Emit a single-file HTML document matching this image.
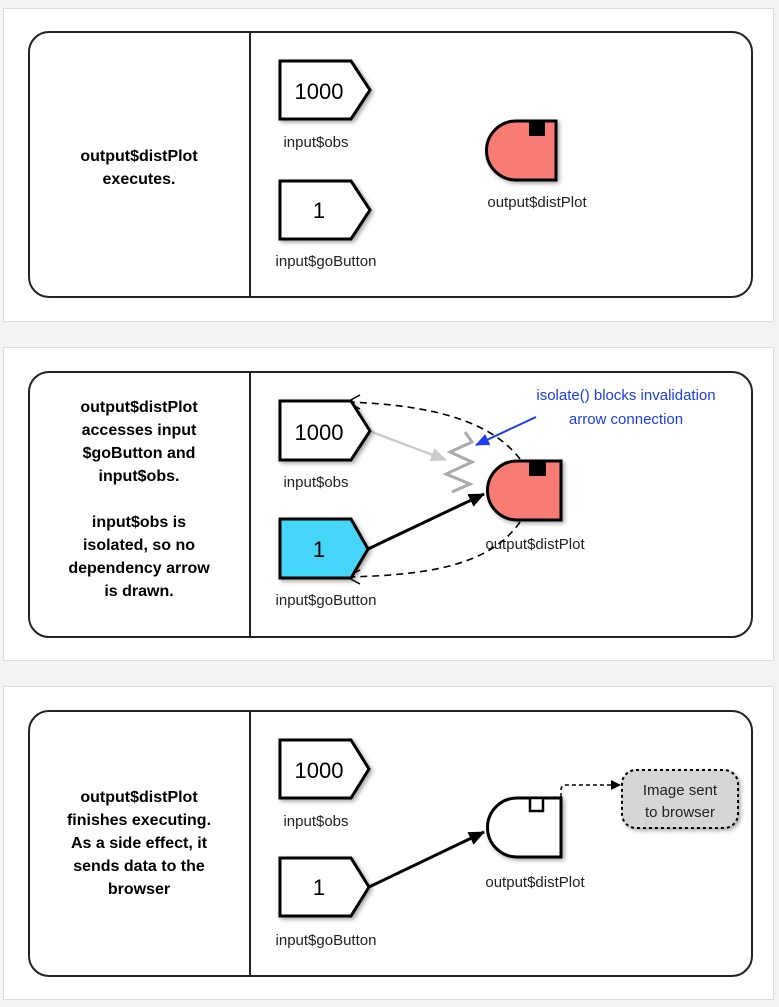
<!DOCTYPE html>
<html><head><style>
html,body{margin:0;padding:0;background:#f3f3f3;}
svg{display:block;font-family:"Liberation Sans",Arial,sans-serif;}
</style></head><body>
<svg width="779" height="1007" viewBox="0 0 779 1007" xmlns="http://www.w3.org/2000/svg">
<defs>
<marker id="ah" markerWidth="10" markerHeight="10" refX="9" refY="5" orient="auto" markerUnits="userSpaceOnUse"><path d="M0,0 L10,5 L0,10 z" fill="#000"/></marker>
<marker id="ahb" markerWidth="16" markerHeight="14" refX="15" refY="7" orient="auto" markerUnits="userSpaceOnUse"><path d="M0,0 L16,7 L0,14 z" fill="#000"/></marker>
<marker id="ahg" markerWidth="16" markerHeight="14" refX="15" refY="7" orient="auto" markerUnits="userSpaceOnUse"><path d="M0,0 L16,7 L0,14 z" fill="#ccc"/></marker>
<marker id="ahblue" markerWidth="14" markerHeight="12" refX="13" refY="6" orient="auto" markerUnits="userSpaceOnUse"><path d="M0,0 L14,6 L0,12 z" fill="#1a3cf5"/></marker>
<filter id="sh" x="-20%" y="-20%" width="140%" height="140%"><feDropShadow dx="2" dy="2" stdDeviation="2" flood-opacity="0.35"/></filter>
</defs>

<rect x="3.5" y="8.5" width="770" height="313" fill="#fff" stroke="#ddd"/>
<rect x="3.5" y="347.5" width="770" height="313" fill="#fff" stroke="#ddd"/>
<rect x="3.5" y="686.5" width="770" height="313" fill="#fff" stroke="#ddd"/>

<!-- Panel 1 -->
<g>
<rect x="29" y="32" width="723" height="265" rx="20" fill="#fff" stroke="#222" stroke-width="2"/>
<line x1="250" y1="32" x2="250" y2="297" stroke="#222" stroke-width="2"/>
<text x="139" y="161" font-size="16" font-weight="bold" text-anchor="middle">output$distPlot</text>
<text x="139" y="184" font-size="16" font-weight="bold" text-anchor="middle">executes.</text>
<g filter="url(#sh)">
<polygon points="280,61 351,61 370,90 351,119 280,119" fill="#fff" stroke="#000" stroke-width="3"/>
<polygon points="280,181 351,181 370,210 351,239 280,239" fill="#fff" stroke="#000" stroke-width="3"/>
<path d="M516,121 H556 V180 H516 A29.5,29.5 0 0 1 516,121 Z" fill="#f87b74" stroke="#000" stroke-width="3"/>
</g>
<rect x="529" y="121" width="16" height="15" fill="#000"/>
<text x="319" y="99" font-size="22" text-anchor="middle">1000</text>
<text x="319" y="218" font-size="22" text-anchor="middle">1</text>
<text x="316" y="147" font-size="15" text-anchor="middle" fill="#222">input$obs</text>
<text x="326" y="266" font-size="15" text-anchor="middle" fill="#222">input$goButton</text>
<text x="537" y="207" font-size="15" text-anchor="middle" fill="#222">output$distPlot</text>
</g>

<!-- Panel 2 -->
<g>
<rect x="29" y="372" width="723" height="265" rx="20" fill="#fff" stroke="#222" stroke-width="2"/>
<line x1="250" y1="372" x2="250" y2="637" stroke="#222" stroke-width="2"/>
<g font-size="16" font-weight="bold" text-anchor="middle">
<text x="139" y="412">output$distPlot</text>
<text x="139" y="435">accesses input</text>
<text x="139" y="458">$goButton and</text>
<text x="139" y="481">input$obs.</text>
<text x="139" y="527">input$obs is</text>
<text x="139" y="550">isolated, so no</text>
<text x="139" y="573">dependency arrow</text>
<text x="139" y="596">is drawn.</text>
</g>
<path d="M520,459 C490,420 430,405 348,402" fill="none" stroke="#000" stroke-width="1.6" stroke-dasharray="7,5"/>
<path d="M360,395 L347,402 L360,409" fill="none" stroke="#000" stroke-width="1.5"/>
<path d="M520,522 C490,565 430,575 348,577" fill="none" stroke="#000" stroke-width="1.6" stroke-dasharray="7,5"/>
<path d="M360,570 L347,577 L360,584" fill="none" stroke="#000" stroke-width="1.5"/>
<line x1="372" y1="432" x2="446" y2="460" stroke="#ccc" stroke-width="2.5" marker-end="url(#ahg)"/>
<path d="M465,432 L472,442 L450,452 L472,462 L446,474 L470,484 L452,492" fill="none" stroke="#aaa" stroke-width="3"/>
<g filter="url(#sh)">
<polygon points="280,401 351,401 370,431 351,460 280,460" fill="#fff" stroke="#000" stroke-width="3"/>
<polygon points="280,519 351,519 368,549 351,578 280,578" fill="#45d5f8" stroke="#000" stroke-width="3"/>
<path d="M517,461 H561 V520 H517 A29.5,29.5 0 0 1 517,461 Z" fill="#f87b74" stroke="#000" stroke-width="3"/>
</g>
<rect x="529" y="461" width="17" height="15" fill="#000"/>
<line x1="368" y1="549" x2="484" y2="494" stroke="#000" stroke-width="3" marker-end="url(#ahb)"/>
<text x="319" y="440" font-size="22" text-anchor="middle">1000</text>
<text x="319" y="557" font-size="22" text-anchor="middle">1</text>
<text x="316" y="487" font-size="15" text-anchor="middle" fill="#222">input$obs</text>
<text x="326" y="605" font-size="15" text-anchor="middle" fill="#222">input$goButton</text>
<text x="535" y="549" font-size="15" text-anchor="middle" fill="#222">output$distPlot</text>
<text x="626" y="400" font-size="15" text-anchor="middle" fill="#1a3cf5">isolate() blocks invalidation</text>
<text x="626" y="424" font-size="15" text-anchor="middle" fill="#1a3cf5">arrow connection</text>
<line x1="536" y1="417" x2="476" y2="445" stroke="#1a3cf5" stroke-width="2" marker-end="url(#ahblue)"/>
</g>

<!-- Panel 3 -->
<g>
<rect x="29" y="711" width="723" height="265" rx="20" fill="#fff" stroke="#222" stroke-width="2"/>
<line x1="250" y1="711" x2="250" y2="976" stroke="#222" stroke-width="2"/>
<g font-size="16" font-weight="bold" text-anchor="middle">
<text x="139" y="802">output$distPlot</text>
<text x="139" y="825">finishes executing.</text>
<text x="139" y="848">As a side effect, it</text>
<text x="139" y="871">sends data to the</text>
<text x="139" y="894">browser</text>
</g>
<g filter="url(#sh)">
<polygon points="280,740 351,740 369,769 351,798 280,798" fill="#fff" stroke="#000" stroke-width="3"/>
<polygon points="280,858 351,858 369,887 351,916 280,916" fill="#fff" stroke="#000" stroke-width="3"/>
<path d="M517,798 H561 V857 H517 A29.5,29.5 0 0 1 517,798 Z" fill="#fff" stroke="#000" stroke-width="3"/>
<rect x="622" y="770" width="116" height="58" rx="14" fill="#d6d6d6" stroke="#000" stroke-width="2" stroke-dasharray="3,3"/>
</g>
<rect x="530" y="798" width="13" height="13" fill="#fff" stroke="#000" stroke-width="2.5"/>
<line x1="369" y1="887" x2="484" y2="832" stroke="#000" stroke-width="3" marker-end="url(#ahb)"/>
<path d="M561,797 V790 Q561,785 566,785 H620" fill="none" stroke="#000" stroke-width="1.5" stroke-dasharray="4,3" marker-end="url(#ah)"/>
<text x="680" y="795" font-size="15" text-anchor="middle" fill="#222">Image sent</text>
<text x="680" y="817" font-size="15" text-anchor="middle" fill="#222">to browser</text>
<text x="319" y="778" font-size="22" text-anchor="middle">1000</text>
<text x="319" y="895" font-size="22" text-anchor="middle">1</text>
<text x="316" y="826" font-size="15" text-anchor="middle" fill="#222">input$obs</text>
<text x="326" y="945" font-size="15" text-anchor="middle" fill="#222">input$goButton</text>
<text x="535" y="887" font-size="15" text-anchor="middle" fill="#222">output$distPlot</text>
</g>
</svg>
</body></html>
